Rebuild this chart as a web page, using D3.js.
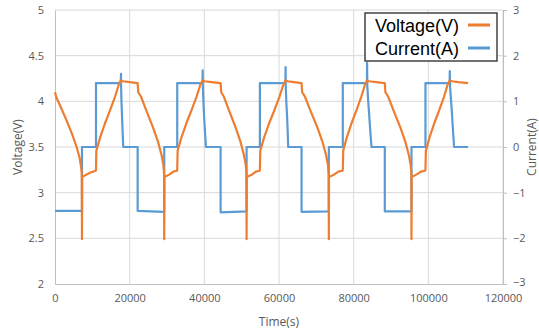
<!DOCTYPE html>
<html>
<head>
<meta charset="utf-8">
<script src="https://cdn.jsdelivr.net/npm/d3@7"></script>
<style>
  body { margin: 0; background: #fff; }
  svg { display: block; }
  .tick text { font-family: "Open Sans", sans-serif; font-size: 11px; fill: #595959; }
</style>
</head>
<body>
<div id="chart"></div>
<script>
// voltage trace (time in s, volts)
const voltTime = [
  0, 400, 1500, 3000, 4500, 5800, 6600, 7000, 7180, 7230, 7260,
  8500, 9500, 10900,
  10980, 11080, 12050, 13400, 14730, 16070, 17140, 17670,
  18200, 20000, 22000,
  22140, 22300, 23050, 24550, 26300, 27650, 28550, 29050, 29220, 29260, 29300,
  30700, 31700, 32650,
  32740, 32850, 33830, 35190, 36550, 37910, 39000, 39550,
  40100, 42000, 44250,
  44360, 44520, 45250, 46710, 48420, 49740, 50620, 51110, 51280, 51320, 51360,
  52800, 53800, 54800,
  54880, 54990, 55980, 57360, 58740, 60120, 61220, 61770,
  62300, 64000, 65950,
  66040, 66200, 66960, 68500, 70320, 71700, 72630, 73120, 73310, 73350, 73390,
  74800, 75900, 77000,
  77090, 77200, 78130, 79430, 80740, 82040, 83090, 83600,
  84100, 86000, 88250,
  88340, 88500, 89260, 90770, 92550, 93890, 94800, 95280, 95450, 95490, 95530,
  96900, 98000, 99150,
  99230, 99340, 100280, 101590, 102900, 104200, 105230, 105750,
  106300, 108000, 110650
];
const voltValue = [
  4.10, 4.04, 3.94, 3.80, 3.65, 3.50, 3.38, 3.28, 3.20, 2.49, 3.17,
  3.20, 3.22, 3.24,
  3.25, 3.46, 3.60, 3.76, 3.90, 4.05, 4.19, 4.23,
  4.22, 4.21, 4.20,
  4.20, 4.10, 4.05, 3.89, 3.71, 3.55, 3.41, 3.30, 3.20, 2.49, 3.17,
  3.20, 3.23, 3.24,
  3.25, 3.46, 3.60, 3.76, 3.90, 4.05, 4.19, 4.23,
  4.22, 4.21, 4.20,
  4.20, 4.10, 4.05, 3.89, 3.71, 3.55, 3.41, 3.30, 3.20, 2.49, 3.17,
  3.20, 3.23, 3.24,
  3.25, 3.46, 3.60, 3.76, 3.90, 4.05, 4.19, 4.23,
  4.22, 4.21, 4.20,
  4.20, 4.10, 4.05, 3.89, 3.71, 3.55, 3.41, 3.30, 3.20, 2.49, 3.17,
  3.20, 3.23, 3.24,
  3.25, 3.46, 3.60, 3.76, 3.90, 4.05, 4.19, 4.23,
  4.22, 4.21, 4.20,
  4.20, 4.10, 4.05, 3.89, 3.71, 3.55, 3.41, 3.30, 3.20, 2.49, 3.17,
  3.20, 3.23, 3.24,
  3.25, 3.46, 3.60, 3.76, 3.90, 4.05, 4.19, 4.23,
  4.22, 4.21, 4.20
];

// current trace (time in s, amps)
const currTime = [
  0, 7230, 7230, 10980, 10980, 17620, 17670, 17700, 17800, 17950, 18100, 18280, 22140, 22140,
  29260, 29260, 32740, 32740, 39500, 39550, 39600, 39750, 39950, 40200, 40420, 44360, 44360,
  51320, 51320, 54880, 54880, 61720, 61770, 61800, 61950, 62150, 62320, 62460, 66040, 66040,
  73350, 73350, 77090, 77090, 83550, 83600, 83650, 83900, 84200, 84500, 84770, 88340, 88340,
  95490, 95490, 99230, 99230, 105700, 105750, 105800, 106100, 106400, 106650, 106900, 110650
];
const currValue = [
  -1.4, -1.4, 0, 0, 1.4, 1.4, 1.6, 1.35, 1.0, 0.7, 0.35, 0, 0, -1.4,
  -1.42, 0, 0, 1.4, 1.4, 1.68, 1.35, 1.0, 0.65, 0.3, 0, 0, -1.43,
  -1.41, 0, 0, 1.4, 1.4, 1.75, 1.35, 1.0, 0.7, 0.35, 0, 0, -1.42,
  -1.41, 0, 0, 1.4, 1.4, 1.84, 1.35, 1.0, 0.65, 0.3, 0, 0, -1.41,
  -1.41, 0, 0, 1.4, 1.4, 1.66, 1.35, 1.0, 0.65, 0.3, 0, 0
];

const xTicks = [0, 20000, 40000, 60000, 80000, 100000, 120000];
const vTicks = [2, 2.5, 3, 3.5, 4, 4.5, 5];
const iTicks = [-3, -2, -1, 0, 1, 2, 3];
const seriesNames = ["Voltage(V)", "Current(A)"];
const seriesColors = ["#ED7D31", "#5B9BD5"];

const width = 539, height = 333;
const mLeft = 55, mRight = 503, mTop = 10, mBottom = 284;

const x = d3.scaleLinear().domain([0, 120000]).range([mLeft, mRight]);
const yV = d3.scaleLinear().domain([2, 5]).range([mBottom, mTop]);
const yI = d3.scaleLinear().domain([-3, 3]).range([mBottom, mTop]);

const svg = d3.select("#chart").append("svg")
    .attr("width", width)
    .attr("height", height);

// gridlines
svg.append("g")
    .selectAll("line").data(vTicks.slice(1)).join("line")
    .attr("x1", mLeft).attr("x2", mRight)
    .attr("y1", d => yV(d)).attr("y2", d => yV(d))
    .attr("stroke", "#D9D9D9").attr("stroke-width", 1);
svg.append("g")
    .selectAll("line").data(xTicks.slice(1)).join("line")
    .attr("x1", d => x(d)).attr("x2", d => x(d))
    .attr("y1", mTop).attr("y2", mBottom)
    .attr("stroke", "#D9D9D9").attr("stroke-width", 1);

// axes
const xAxis = svg.append("g")
    .attr("transform", `translate(0,${mBottom})`)
    .call(d3.axisBottom(x).tickValues(xTicks).tickSize(0).tickPadding(10).tickFormat(d3.format("d")));
xAxis.select(".domain").attr("stroke", "#BFBFBF");

const yAxisL = svg.append("g")
    .attr("transform", `translate(${mLeft},0)`)
    .call(d3.axisLeft(yV).tickValues(vTicks).tickSize(0).tickPadding(11).tickFormat(d3.format("")));
yAxisL.select(".domain").attr("stroke", "#BFBFBF");

const yAxisR = svg.append("g")
    .attr("transform", `translate(${mRight},0)`)
    .call(d3.axisRight(yI).tickValues(iTicks).tickSize(4).tickPadding(6).tickFormat(d3.format("")));
yAxisR.select(".domain").attr("stroke", "#BFBFBF");
yAxisR.selectAll(".tick line").attr("stroke", "#BFBFBF");
// keep the lowest right label clear of the last x label
yAxisR.selectAll(".tick text").filter(d => d === -3).attr("dy", "0.1em");

// axis titles
svg.append("text")
    .attr("x", (mLeft + mRight) / 2).attr("y", 326)
    .attr("text-anchor", "middle")
    .attr("font-family", "Open Sans, sans-serif").attr("font-size", 12)
    .attr("fill", "#595959")
    .text("Time(s)");
svg.append("text")
    .attr("transform", `translate(22,${(mTop + mBottom) / 2}) rotate(-90)`)
    .attr("text-anchor", "middle")
    .attr("font-family", "Open Sans, sans-serif").attr("font-size", 12)
    .attr("fill", "#595959")
    .text("Voltage(V)");
svg.append("text")
    .attr("transform", `translate(536,${(mTop + mBottom) / 2}) rotate(-90)`)
    .attr("text-anchor", "middle")
    .attr("font-family", "Open Sans, sans-serif").attr("font-size", 12)
    .attr("fill", "#595959")
    .text("Current(A)");

// series
const voltData = voltTime.map((t, i) => ({ t: t, v: voltValue[i] }));
const currData = currTime.map((t, i) => ({ t: t, v: currValue[i] }));

svg.append("path")
    .attr("fill", "none")
    .attr("stroke", seriesColors[1])
    .attr("stroke-width", 2.2)
    .attr("stroke-linejoin", "round")
    .attr("d", d3.line().x(d => x(d.t)).y(d => yI(d.v))(currData));

svg.append("path")
    .attr("fill", "none")
    .attr("stroke", seriesColors[0])
    .attr("stroke-width", 2.2)
    .attr("stroke-linejoin", "round")
    .attr("d", d3.line().x(d => x(d.t)).y(d => yV(d.v))(voltData));

// legend
const legend = svg.append("g");
legend.append("rect")
    .attr("x", 365).attr("y", 13).attr("width", 132).attr("height", 48)
    .attr("fill", "#fff").attr("stroke", "#262626").attr("stroke-width", 1.3);
seriesNames.forEach((name, i) => {
    const yy = 25 + i * 23;
    legend.append("text")
        .attr("x", 459).attr("y", yy + 7)
        .attr("text-anchor", "end")
        .attr("font-family", "Liberation Sans, Arial, sans-serif").attr("font-size", 18)
        .attr("fill", "#000")
        .text(name);
    legend.append("line")
        .attr("x1", 468).attr("x2", 490)
        .attr("y1", yy).attr("y2", yy)
        .attr("stroke", seriesColors[i]).attr("stroke-width", 3);
});
</script>
</body>
</html>
